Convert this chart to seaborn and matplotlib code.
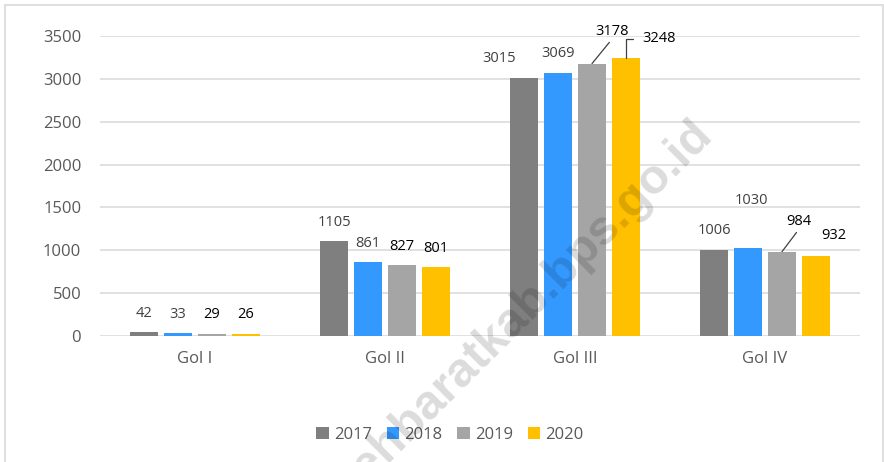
import numpy as np
import pandas as pd
import matplotlib
matplotlib.use("Agg")
import matplotlib.pyplot as plt
import seaborn as sns
from matplotlib.patches import Patch, Rectangle

# ---------------- data ----------------
categories = ["Gol I", "Gol II", "Gol III", "Gol IV"]
years = ["2017", "2018", "2019", "2020"]
v2017 = [42, 1105, 3015, 1006]
v2018 = [33, 861, 3069, 1030]
v2019 = [29, 827, 3178, 984]
v2020 = [26, 801, 3248, 932]
yticks = [0, 500, 1000, 1500, 2000, 2500, 3000, 3500]
watermark = "acehbaratkab.bps.go.id"

# ---------------- style ----------------
colors = ["#7F7F7F", "#3399FF", "#A5A5A5", "#FFC000"]
label_colors = ["#404040", "#404040", "#000000", "#000000"]
# label offsets (pixels: dx, dy from top-centre of bar) for Excel-moved labels
default_off = (0, 19)
moved = {(2, 0): (-25, 19), (2, 2): (20, 32), (2, 3): (33, 19),
         (3, 1): (3, 47), (3, 2): (17, 30), (3, 3): (18, 21)}
leader_straight = {(2, 2), (3, 2)}
leader_bracket = {(2, 3)}

sns.set_theme(style="white")
plt.rcParams["font.family"] = ["Open Sans", "DejaVu Sans"]

df = pd.DataFrame({
    "gol": categories * 4,
    "year": [y for y in years for _ in categories],
    "val": v2017 + v2018 + v2019 + v2020,
})

fig = plt.figure(figsize=(8.84, 4.62), dpi=100)
ax = fig.add_axes([100 / 884, 1 - 336 / 462, 760 / 884, 300 / 462])

sns.barplot(data=df, x="gol", y="val", hue="year", order=categories,
            hue_order=years, palette=colors, saturation=1, width=0.716,
            gap=0.2, ax=ax, legend=False, edgecolor="none", linewidth=0,
            errorbar=None)

ax.set_xlim(-0.5, 3.5)
ax.set_ylim(0, 3500)
ax.set_yticks(yticks)
ax.set_yticklabels([str(t) for t in yticks])
ax.set_xlabel("")
ax.set_ylabel("")
for s in ax.spines.values():
    s.set_visible(False)
ax.yaxis.grid(True, color="#D9D9D9", linewidth=1.1)
ax.set_axisbelow(True)
ax.tick_params(axis="y", length=0, pad=13.5, labelsize=12, labelcolor="#595959")
ax.tick_params(axis="x", length=0, pad=11, labelsize=12, labelcolor="#595959")

# data labels
for yi, cont in enumerate(ax.containers):
    for ci, p in enumerate(cont.patches):
        x = p.get_x() + p.get_width() / 2
        top = p.get_height()
        dx, dy = moved.get((ci, yi), default_off)
        kw = {}
        if (ci, yi) in leader_straight:
            kw["arrowprops"] = dict(arrowstyle="-", color="#404040", lw=0.9,
                                    relpos=(0.5, 0.0), shrinkA=0, shrinkB=0)
        elif (ci, yi) in leader_bracket:
            kw["arrowprops"] = dict(arrowstyle="-", color="#404040", lw=0.9,
                                    relpos=(0.0, 0.5), shrinkA=4, shrinkB=0,
                                    connectionstyle="angle,angleA=0,angleB=90,rad=0")
        ax.annotate(str(int(round(top))), xy=(x, top), xytext=(dx, dy),
                    textcoords="offset pixels", ha="center", va="center",
                    fontsize=10.5, color=label_colors[yi], **kw)

# legend
handles = [Patch(facecolor=c, edgecolor="none", label=y) for c, y in zip(colors, years)]
fig.legend(handles=handles, loc="center", bbox_to_anchor=(450 / 884, 1 - 435 / 462),
           ncol=4, frameon=False, fontsize=12, labelcolor="#595959",
           handlelength=0.75, handleheight=0.75, handletextpad=0.3,
           columnspacing=0.9, borderaxespad=0)

# chart-area border
fig.add_artist(Rectangle((5 / 884, -0.05), 878 / 884, 1.05 - 5 / 462,
                         transform=fig.transFigure, fill=False,
                         edgecolor="#D9D9D9", linewidth=1.2, zorder=0))

# watermark
fig.text(690 / 884, 1 - 112 / 462, watermark, rotation=45, rotation_mode="anchor",
         ha="right", va="top", fontsize=35, fontweight="bold",
         family=["Liberation Sans", "DejaVu Sans"], color="black", alpha=0.14,
         zorder=10)

fig.savefig("out.png", dpi=100)
